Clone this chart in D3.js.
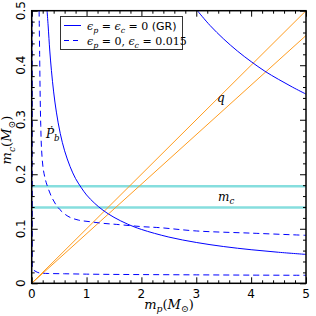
<!DOCTYPE html>
<html><head><meta charset="utf-8">
<script src="https://cdn.jsdelivr.net/npm/d3@7"></script>
<style>html,body{margin:0;padding:0;background:#fff}</style>
</head><body>
<script>
// ---- data ----
const mpTicks = [0, 1, 2, 3, 4, 5];
const mpTickLabels = ["0", "1", "2", "3", "4", "5"];
const mcTicks = [0, 0.1, 0.2, 0.3, 0.4, 0.5];
const mcTickLabels = ["0", "0.1", "0.2", "0.3", "0.4", "0.5"];

// GR (solid) Pb-dot curves
const grLowMp = [0.28, 0.30, 0.33, 0.36, 0.40, 0.45, 0.52, 0.60, 0.70, 0.80, 0.90, 1.00, 1.15, 1.30, 1.50, 1.75, 2.00, 2.50, 3.00, 3.50, 4.00, 4.50, 5.00];
const grLowMc = [0.500, 0.472, 0.426, 0.390, 0.351, 0.314, 0.275, 0.243, 0.214, 0.192, 0.176, 0.162, 0.1465, 0.134, 0.121, 0.1085, 0.0988, 0.0848, 0.0749, 0.0674, 0.0616, 0.0569, 0.053];
const grHighMp = [3.02, 3.25, 3.50, 3.75, 4.00, 4.25, 4.50, 4.75, 5.00];
const grHighMc = [0.500, 0.473, 0.448, 0.426, 0.4066, 0.389, 0.374, 0.360, 0.347];

// eps_p = 0, eps_c = 0.015 (dashed) curves
const dOuterMp = [0.135, 0.145, 0.155, 0.165, 0.18, 0.21, 0.25, 0.28, 0.36, 0.48, 0.66, 0.85, 1.06, 1.30, 1.55, 2.00, 2.34, 3.00, 4.00, 5.00];
const dOuterMc = [0.500, 0.420, 0.340, 0.290, 0.245, 0.210, 0.190, 0.180, 0.159, 0.139, 0.123, 0.116, 0.113, 0.110, 0.108, 0.104, 0.102, 0.096, 0.092, 0.088];
const dInnerMp = [0.010, 0.0105, 0.011, 0.012, 0.015, 0.03, 0.06, 0.10, 0.15, 0.30, 0.60, 1.00, 1.50, 2.00, 3.00, 4.00, 5.00];
const dInnerMc = [0.500, 0.250, 0.100, 0.045, 0.029, 0.025, 0.0225, 0.0203, 0.0188, 0.0180, 0.0175, 0.0168, 0.0163, 0.0160, 0.0155, 0.0150, 0.0147];

// mass ratio q lines (mc = mp / q)
const qLineMp = [0, 5];
const qLine10Mc = [0, 0.5];
const qLine11Mc = [0, 0.4545];

// companion mass bounds
const mcBounds = [0.178, 0.139];

// ---- layout ----
const W = 316, H = 316;
const svg = d3.select("body").append("svg").attr("width", W).attr("height", H)
  .style("font-family", "DejaVu Sans, sans-serif");
const x = d3.scaleLinear().domain([0, 5]).range([31.7, 306]);
const y = d3.scaleLinear().domain([0, 0.5]).range([283.3, 10.7]);
const x0 = x.range()[0], x1 = x.range()[1], y0 = y.range()[0], y1 = y.range()[1];

svg.append("defs").append("clipPath").attr("id", "clip")
  .append("rect").attr("x", x0).attr("y", y1).attr("width", x1 - x0).attr("height", y0 - y1);

const plot = svg.append("g").attr("clip-path", "url(#clip)");
const line = d3.line().x(d => x(d[0])).y(d => y(d[1])).curve(d3.curveCatmullRom.alpha(0.5));
const zip = (a, b) => a.map((v, i) => [v, b[i]]);

// cyan mc bounds
plot.selectAll(".mcb").data(mcBounds).join("line")
  .attr("x1", x0).attr("x2", x1).attr("y1", d => y(d)).attr("y2", d => y(d))
  .attr("stroke", "#86dede").attr("stroke-width", 2.4);

// orange q lines
[qLine10Mc, qLine11Mc].forEach(mc => {
  plot.append("path").attr("d", d3.line().x(d => x(d[0])).y(d => y(d[1]))(zip(qLineMp, mc)))
    .attr("fill", "none").attr("stroke", "#ff9c1f").attr("stroke-width", 1);
});

// solid GR curves
[[grLowMp, grLowMc], [grHighMp, grHighMc]].forEach(([a, b]) => {
  plot.append("path").attr("d", line(zip(a, b)))
    .attr("fill", "none").attr("stroke", "#0000ff").attr("stroke-width", 1);
});
// dashed curves
[[dOuterMp, dOuterMc], [dInnerMp, dInnerMc]].forEach(([a, b]) => {
  plot.append("path").attr("d", line(zip(a, b)))
    .attr("fill", "none").attr("stroke", "#0000ff").attr("stroke-width", 1)
    .attr("stroke-dasharray", "6,4");
});

// ---- axes (ticks inward on all sides) ----
const majorLen = 6, minorLen = 3;
const xMinor = d3.range(0, 5.0001, 0.2).filter(v => Math.abs(v - Math.round(v)) > 1e-6);
const yMinor = d3.range(0, 0.5001, 0.02).filter(v => Math.abs(v * 10 - Math.round(v * 10)) > 1e-6);
function axisG(axisFn, scale, vals, len, tr) {
  const g = svg.append("g").attr("transform", tr)
    .call(axisFn(scale).tickValues(vals).tickSize(len).tickFormat(""));
  g.select(".domain").remove();
  g.selectAll("line").attr("stroke", "#000").attr("stroke-width", 1);
  return g;
}
axisG(d3.axisBottom, x, mpTicks, -majorLen, `translate(0,${y0})`);
axisG(d3.axisBottom, x, xMinor, -minorLen, `translate(0,${y0})`);
axisG(d3.axisTop, x, mpTicks, -majorLen, `translate(0,${y1})`);
axisG(d3.axisTop, x, xMinor, -minorLen, `translate(0,${y1})`);
axisG(d3.axisLeft, y, mcTicks, -majorLen, `translate(${x0},0)`);
axisG(d3.axisLeft, y, yMinor, -minorLen, `translate(${x0},0)`);
axisG(d3.axisRight, y, mcTicks, -majorLen, `translate(${x1},0)`);
axisG(d3.axisRight, y, yMinor, -minorLen, `translate(${x1},0)`);

svg.append("rect").attr("x", x0).attr("y", y1).attr("width", x1 - x0).attr("height", y0 - y1)
  .attr("fill", "none").attr("stroke", "#000").attr("stroke-width", 1.5);

// tick labels
svg.selectAll(".xtl").data(mpTicks).join("text")
  .attr("x", d => x(d)).attr("y", 297.5).attr("text-anchor", "middle")
  .attr("font-size", 12).text((d, i) => mpTickLabels[i]);
svg.selectAll(".ytl").data(mcTicks).join("text")
  .attr("transform", d => `translate(24.5,${y(d)}) rotate(-90)`)
  .attr("text-anchor", "middle").attr("font-size", 12).text((d, i) => mcTickLabels[i]);

// ---- math text helper ----
const SERIF = "DejaVu Serif, Liberation Serif, serif";
function mathText(parent, px, py, segs, size, anchor) {
  const t = parent.append("text").attr("x", px).attr("y", py).attr("font-size", size)
    .attr("font-family", SERIF).attr("text-anchor", anchor || "start");
  let shifted = 0;
  segs.forEach(s => {
    const sp = t.append("tspan").text(s.t);
    if (s.i) sp.attr("font-style", "italic");
    if (s.f) sp.attr("font-family", s.f);
    const target = s.sub ? size * 0.28 : 0;
    if (target !== shifted) { sp.attr("dy", target - shifted); shifted = target; }
    if (s.sub) sp.attr("font-size", size * 0.72);
  });
  return t;
}

// axis labels
mathText(svg, 169, 308.5, [{t: "m", i: 1}, {t: "p", i: 1, sub: 1}, {t: "("}, {t: "M", i: 1}, {t: "⊙", sub: 1}, {t: ")"}], 13, "middle");
mathText(svg.append("g").attr("transform", "translate(11,140) rotate(-90)"), 0, 0,
  [{t: "m", i: 1}, {t: "c", i: 1, sub: 1}, {t: "("}, {t: "M", i: 1}, {t: "⊙", sub: 1}, {t: ")"}], 13, "middle");

// annotations
mathText(svg, 46, 138, [{t: "Ṗ", i: 1}, {t: "b", i: 1, sub: 1}], 12);
mathText(svg, 217, 102, [{t: "q", i: 1}], 12);
mathText(svg, 218, 201, [{t: "m", i: 1}, {t: "c", i: 1, sub: 1}], 12);

// ---- legend ----
const lg = svg.append("g");
lg.append("rect").attr("x", 60.5).attr("y", 16.5).attr("width", 122).attr("height", 33)
  .attr("fill", "#fff").attr("stroke", "#333").attr("stroke-width", 1);
lg.append("line").attr("x1", 64).attr("x2", 81).attr("y1", 25.5).attr("y2", 25.5)
  .attr("stroke", "#0000ff").attr("stroke-width", 1);
lg.append("line").attr("x1", 64).attr("x2", 81).attr("y1", 40.5).attr("y2", 40.5)
  .attr("stroke", "#0000ff").attr("stroke-width", 1).attr("stroke-dasharray", "5,4");
mathText(lg, 87, 29.5, [{t: "ϵ", i: 1}, {t: "p", i: 1, sub: 1}, {t: " = "}, {t: "ϵ", i: 1}, {t: "c", i: 1, sub: 1}, {t: " = 0  "}, {t: "(GR)", f: "DejaVu Sans, sans-serif"}], 11);
mathText(lg, 87, 44.5, [{t: "ϵ", i: 1}, {t: "p", i: 1, sub: 1}, {t: " = 0, "}, {t: "ϵ", i: 1}, {t: "c", i: 1, sub: 1}, {t: " = 0.015"}], 11);
</script>
</body></html>
